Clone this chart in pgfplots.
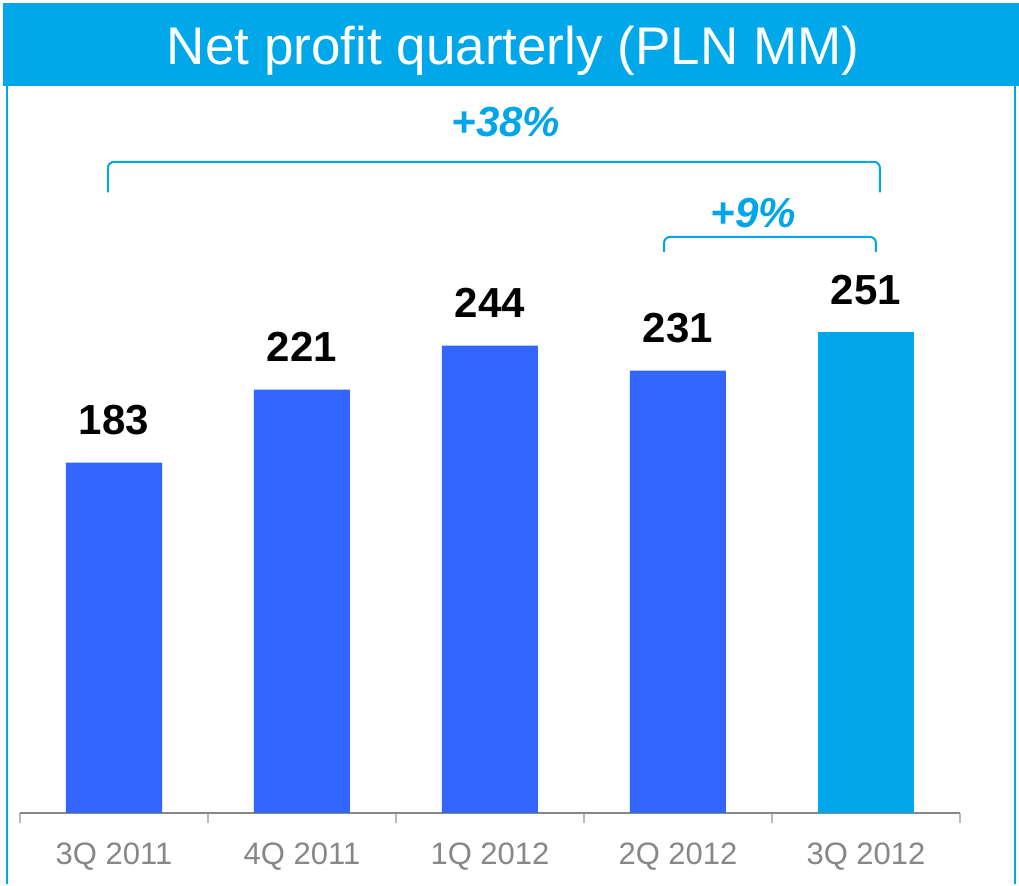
\documentclass[border=0pt]{standalone}
\usepackage{fontspec}
\setmainfont{Liberation Sans}
\usepackage{pgfplots}
\pgfplotsset{compat=1.18}
\definecolor{barblue}{HTML}{3366FF}
\definecolor{barcyan}{HTML}{00A6E8}
\definecolor{bannercyan}{HTML}{00A8EA}
\definecolor{tickgray}{HTML}{878787}
\begin{document}
\begin{tikzpicture}
\path[use as bounding box] (0,0) rectangle (509.5pt,442.5pt);
\fill[bannercyan] (1.5pt,399.5pt) rectangle (509.5pt,441pt);
\draw[barcyan,line width=1pt] (3.5pt,0.5pt) -- (3.5pt,399.5pt);
\draw[barcyan,line width=1pt] (507.5pt,0.5pt) -- (507.5pt,399.5pt);
\node[white,font=\fontsize{26.5}{30}\selectfont,anchor=base,inner sep=0pt]
  at (256.5pt,410pt) {Net profit quarterly (PLN MM)};
\begin{axis}[
  at={(10pt,36pt)}, anchor=south west,
  scale only axis, width=470pt, height=361.5pt,
  xmin=-0.5, xmax=4.5, ymin=0, ymax=377.5,
  axis x line*=bottom, axis y line=none,
  axis line style={tickgray,line width=0.75pt},
  xtick={0,...,4},
  xticklabels={3Q 2011,4Q 2011,1Q 2012,2Q 2012,3Q 2012},
  major tick length=0pt,
  minor xtick={-0.5,0.5,1.5,2.5,3.5,4.5},
  minor tick length=5pt,
  tick align=outside,
  minor tick style={color=gray!55,line width=0.6pt},
  xticklabel style={font=\fontsize{15.5}{18}\selectfont,text=tickgray,anchor=base,yshift=-26pt},
  ytick=\empty,
  clip=false,
  /pgf/number format/assume math mode=true,
  nodes near coords style={font=\bfseries\fontsize{21}{24}\selectfont,text=black,anchor=base,yshift=14pt},
]
\addplot[ybar,bar width=48pt,bar shift=0pt,fill=barblue,draw=none,nodes near coords]
  coordinates {(0,183) (1,221) (2,244) (3,231)};
\addplot[ybar,bar width=48pt,bar shift=0pt,fill=barcyan,draw=none,nodes near coords]
  coordinates {(4,251)};
% growth brackets
\draw[barcyan,line width=1pt,rounded corners=3pt]
  (axis cs:-0.032,324) -- (axis cs:-0.032,340) -- (axis cs:4.074,340) -- (axis cs:4.074,324);
\node[text=barcyan,font=\bfseries\itshape\fontsize{21}{24}\selectfont,anchor=base,inner sep=0pt]
  at (axis cs:2.085,353) {+38\%};
\draw[barcyan,line width=1pt,rounded corners=3pt]
  (axis cs:2.926,293) -- (axis cs:2.926,300.8) -- (axis cs:4.053,300.8) -- (axis cs:4.053,293);
\node[text=barcyan,font=\bfseries\itshape\fontsize{21}{24}\selectfont,anchor=base,inner sep=0pt]
  at (axis cs:3.40,305.5) {+9\%};
\end{axis}
\end{tikzpicture}
\end{document}
